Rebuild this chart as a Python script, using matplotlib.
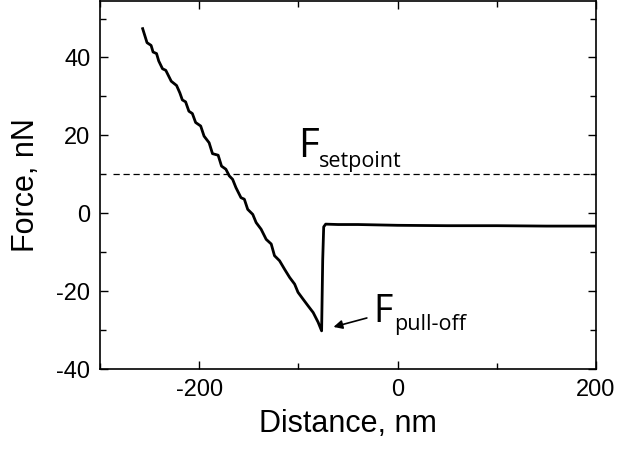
import matplotlib
matplotlib.use('Agg')
import matplotlib.pyplot as plt
from matplotlib.ticker import MultipleLocator

plt.rcParams['font.family'] = ['Liberation Sans', 'DejaVu Sans']
plt.rcParams['axes.unicode_minus'] = False

# approach / retract force curve
distance = [-257, -252.6, -248.5, -246.5, -243, -240.8, -237, -233.7, -228.2,
            -222.8, -219.5, -217, -213.7, -210.4, -206.9, -203.6, -198.5,
            -195.1, -190, -186.6, -180.9, -177.5, -173.1, -169.7, -166.3,
            -163, -157.9, -154.5, -151.1, -146, -142.6, -137.6, -132.5,
            -127.4, -124.1, -119, -113.9, -108.8, -103.8, -100.4, -95.2,
            -90.2, -85.1, -80.1, -76.6, -75.5, -74.5, -72.5, -60, -40, -20,
            0, 50, 100, 150, 200]
force = [47.4, 43.8, 43.1, 41.4, 41.0, 39.1, 37.1, 36.7, 33.9, 32.8, 30.9,
         29.1, 28.6, 26.2, 25.6, 23.3, 22.4, 19.8, 18.1, 15.3, 14.9, 12.1,
         11.3, 9.6, 8.7, 6.6, 4.0, 3.6, 1.0, -0.3, -2.4, -4.1, -6.7, -7.9,
         -10.9, -12.2, -14.4, -16.5, -18.2, -20.3, -22.1, -23.8, -25.5,
         -28.0, -30.2, -12.0, -3.5, -2.8, -2.9, -2.9, -3.0, -3.1, -3.2,
         -3.2, -3.3, -3.3]

setpoint = 10
setpoint_start = -287
pulloff_min = (-76.6, -30.2)

fig = plt.figure(figsize=(6.19, 4.53), dpi=100)
ax = fig.add_axes([100 / 619, 1 - 369 / 453, 496 / 619, 368 / 453])

ax.plot(distance, force, color='black', lw=2.0)
ax.hlines(setpoint, setpoint_start, 200, colors='black', lw=0.9,
          linestyles=(0, (5, 3)))

ax.set_xlim(-300, 200)
ax.set_ylim(-40, 54.5)
ax.xaxis.set_major_locator(MultipleLocator(200))
ax.xaxis.set_minor_locator(MultipleLocator(100))
ax.yaxis.set_major_locator(MultipleLocator(20))
ax.yaxis.set_minor_locator(MultipleLocator(10))
ax.tick_params(which='both', direction='in', top=True, right=True,
               width=1.0, labelsize=17, pad=7)
ax.tick_params(which='major', length=6)
ax.tick_params(which='minor', length=4)
for sp in ax.spines.values():
    sp.set_linewidth(1.2)

ax.set_xlabel('Distance, nm', fontsize=22, labelpad=6)
ax.set_ylabel('Force, nN', fontsize=22, labelpad=11)

ann_font = ['Open Sans', 'DejaVu Sans']
ax.text(-100, 14.4, 'F', fontsize=29, family=ann_font, va='baseline')
ax.text(-79, 11.8, 'setpoint', fontsize=15.5, family=ann_font, va='baseline')
ax.text(-24, -27.9, 'F', fontsize=27, family=ann_font, va='baseline')
ax.text(-4, -30.0, 'pull-off', fontsize=15.5, family=ann_font, va='baseline')

ax.annotate('', xy=(pulloff_min[0] + 12, pulloff_min[1] + 1.0),
            xytext=(-31, -26.9),
            arrowprops=dict(arrowstyle='-|>', color='black', lw=1.2,
                            mutation_scale=13, shrinkA=0, shrinkB=0))

fig.savefig('out.png', dpi=100)
